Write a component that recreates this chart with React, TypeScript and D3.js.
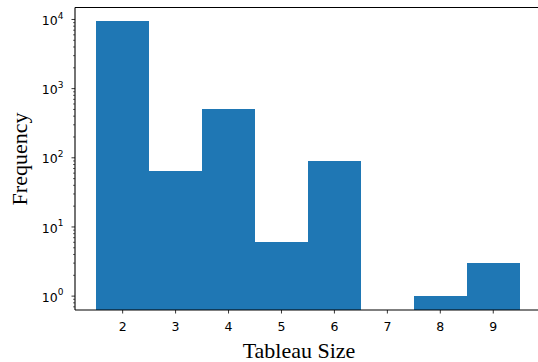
import React from 'react';
import * as d3 from 'd3';

// histogram of tableau sizes (log y)
const sizes = [2, 3, 4, 5, 6, 7, 8, 9];
const counts = [9500, 64, 500, 6, 90, 0, 1, 3];
const xTicks = [2, 3, 4, 5, 6, 7, 8, 9];
const yDecades = [0, 1, 2, 3, 4];

const W = 538;
const H = 362;

const App = () => {
  const left = 75;
  const right = 540.9;
  const top = 7.5;
  const bottom = 310;

  const x = d3.scaleLinear().domain([1.1, 9.9]).range([left, right]);
  const y = d3.scaleLog().domain([0.63, 14900]).range([bottom, top]);

  // minor ticks on log axis, only those inside the domain
  const minor: number[] = [];
  for (let d = -1; d <= 4; d++) {
    for (let m = 2; m <= 9; m++) {
      const v = m * Math.pow(10, d);
      if (v >= 0.63 && v <= 14900) minor.push(v);
    }
  }

  const tickFont = '"DejaVu Sans", sans-serif';
  const labelFont = '"Liberation Serif", "Times New Roman", serif';

  return (
    <svg width={W} height={H} style={{ position: 'absolute', left: 0, top: 0 }}>
      <rect width={W} height={H} fill="white" />

      {/* bars */}
      <g shapeRendering="crispEdges">
        {sizes.map((s, i) => counts[i] > 0 && (
          <rect
            key={s}
            x={x(s - 0.5)}
            y={y(counts[i])}
            width={x(s + 0.5) - x(s - 0.5)}
            height={bottom - y(counts[i])}
            fill="#1f77b4"
          />
        ))}
      </g>

      {/* spines */}
      <line x1={left} x2={left} y1={top} y2={bottom} stroke="#000" strokeWidth={1.1} />
      <line x1={left} x2={right} y1={bottom} y2={bottom} stroke="#000" strokeWidth={1.1} />
      <line x1={left} x2={right} y1={top} y2={top} stroke="#000" strokeWidth={1.1} />
      <line x1={right} x2={right} y1={top} y2={bottom} stroke="#000" strokeWidth={1.1} />

      {/* x ticks */}
      {xTicks.map(t => (
        <g key={t}>
          <line x1={x(t)} x2={x(t)} y1={bottom} y2={bottom + 3.5} stroke="#000" strokeWidth={0.8} />
          <text x={x(t)} y={bottom + 20.7} textAnchor="middle" fontFamily={tickFont} fontSize={12.5} fill="#000">
            {t}
          </text>
        </g>
      ))}

      {/* y major ticks */}
      {yDecades.map(d => {
        const yy = y(Math.pow(10, d));
        return (
          <g key={d}>
            <line x1={left - 3.5} x2={left} y1={yy} y2={yy} stroke="#000" strokeWidth={0.8} />
            <text x={63.5} y={yy + 5.7} textAnchor="end" fontFamily={tickFont} fontSize={12.5} fill="#000">
              <tspan>10</tspan>
              <tspan dy={-6.5} fontSize={9}>{d}</tspan>
            </text>
          </g>
        );
      })}

      {/* y minor ticks */}
      {minor.map(v => (
        <line key={v} x1={left - 2} x2={left} y1={y(v)} y2={y(v)} stroke="#000" strokeWidth={0.6} />
      ))}

      {/* axis labels */}
      <text x={299} y={358} textAnchor="middle" fontFamily={labelFont} fontSize={22} fill="#000">
        Tableau Size
      </text>
      <text
        transform={`translate(26.5, ${159}) rotate(-90)`}
        textAnchor="middle"
        fontFamily={labelFont}
        fontSize={22}
        fill="#000"
      >
        Frequency
      </text>
    </svg>
  );
};

export default App;
